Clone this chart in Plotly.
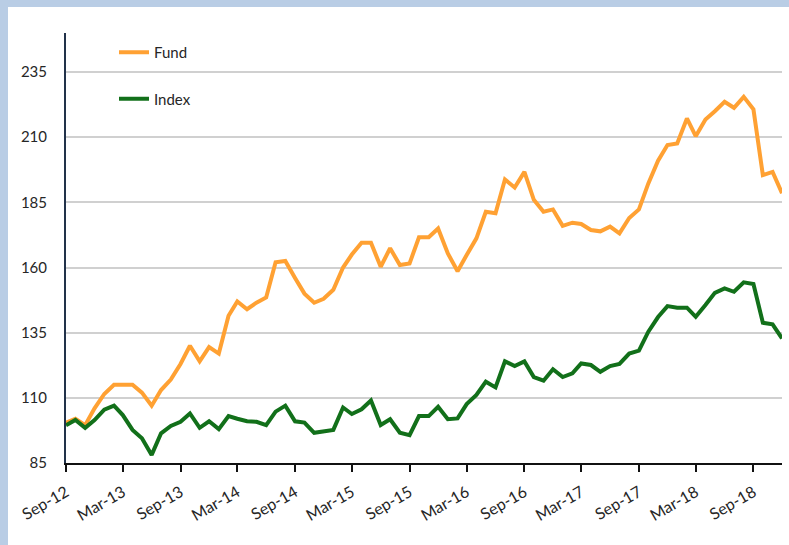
import pandas as pd
import plotly.graph_objects as go

dates = pd.date_range("2012-09-01", "2018-12-01", freq="MS")

fund = [100.5, 102, 99.5, 106, 111.5, 115, 115, 115, 112, 107,
        113, 117, 123, 130, 124, 129.5, 127, 141.5, 147, 144,
        146.5, 148.5, 162, 162.5, 156, 150, 146.5, 148, 151.5, 160,
        165, 169.5, 169.5, 160.3, 167.4, 161, 161.6, 171.6, 171.6, 175,
        165.4, 158.6, 164.8, 171.2, 181.4, 180.8, 193.8, 190.7, 196.7, 186,
        181.4, 182.3, 176, 177.2, 176.7, 174.4, 173.9, 175.7, 173.1, 179,
        182.3, 192.3, 201, 207, 207.6, 217.2, 210.4, 216.8, 220, 223.6,
        221.3, 225.5, 220.7, 195.5, 196.7, 188.5]

index = [99.5, 101.5, 98.5, 101.5, 105.5, 107, 103.4, 97.7, 94.5, 88.1,
         96.4, 99.2, 100.8, 104, 98.5, 101, 98, 103, 102, 101,
         100.8, 99.5, 104.7, 107, 101, 100.5, 96.6, 97.3, 97.7, 106.3,
         103.8, 105.6, 109, 99.6, 101.8, 96.6, 95.7, 103, 103, 106.6,
         101.8, 102.1, 107.6, 111.1, 116.2, 114, 124, 122.2, 124, 118,
         116.6, 121, 118, 119.4, 123.2, 122.6, 120, 122.2, 123, 127,
         128.1, 135.4, 141, 145.2, 144.6, 144.6, 141.1, 145.6, 150.3, 152,
         150.7, 154.3, 153.7, 138.8, 138.2, 132.8]

y_ticks = [85, 110, 135, 160, 185, 210, 235]
x_ticks = pd.date_range("2012-09-01", "2018-09-01", freq="6MS")
x_ticklabels = [d.strftime("%b-%y") for d in x_ticks]

FONT = "Lato, Arial, sans-serif"

fig = go.Figure()
fig.add_trace(go.Scatter(x=dates, y=fund, mode="lines", name="Fund",
                         legendgroup="f",
                         line=dict(color="#ffa133", width=4)))
fig.add_trace(go.Scatter(x=dates, y=index, mode="lines", name="Index",
                         legendgroup="i",
                         line=dict(color="#12701a", width=4)))

W, H = 789, 545
L, R, T, B = 66, 7, 33, 82
pw, ph = W - L - R, H - T - B

def px_x(p):
    return (p - L) / pw

def px_y(p):
    return (H - B - p) / ph

fig.add_shape(type="rect", xref="paper", yref="paper",
              x0=px_x(8), x1=px_x(W + 5), y0=px_y(H + 5), y1=px_y(7),
              fillcolor="white", line=dict(width=0), layer="below")

fig.update_layout(
    width=W, height=H,
    margin=dict(l=L, r=R, t=T, b=B),
    paper_bgcolor="#b9cde5",
    plot_bgcolor="white",
    font=dict(family=FONT, size=15, color="#262626"),
    showlegend=True,
    legend=dict(x=px_x(114), y=px_y(36), xanchor="left", yanchor="top",
                bgcolor="rgba(0,0,0,0)", tracegroupgap=24,
                font=dict(family=FONT, size=15, color="#262626")),
    xaxis=dict(
        type="date",
        range=[dates[0], dates[-1]],
        tickvals=x_ticks, ticktext=x_ticklabels,
        tickangle=-30,
        ticks="outside", ticklen=7, tickwidth=2, tickcolor="#111111",
        ticklabelstandoff=5,
        showline=True, linecolor="#111111", linewidth=2,
        showgrid=False, zeroline=False,
        tickfont=dict(family=FONT, size=16, color="#262626"),
    ),
    yaxis=dict(
        range=[85, 250],
        tickvals=y_ticks,
        ticks="", ticklabelstandoff=14,
        showline=True, linecolor="#22324a", linewidth=2,
        showgrid=True, gridcolor="#d0d0d0", gridwidth=1.5,
        zeroline=False,
        tickfont=dict(family=FONT, size=15, color="#262626"),
    ),
)

fig.write_html(
    "out.html",
    config={"displayModeBar": False},
    post_script="document.body.style.margin='0px';document.body.style.overflow='hidden';",
)
